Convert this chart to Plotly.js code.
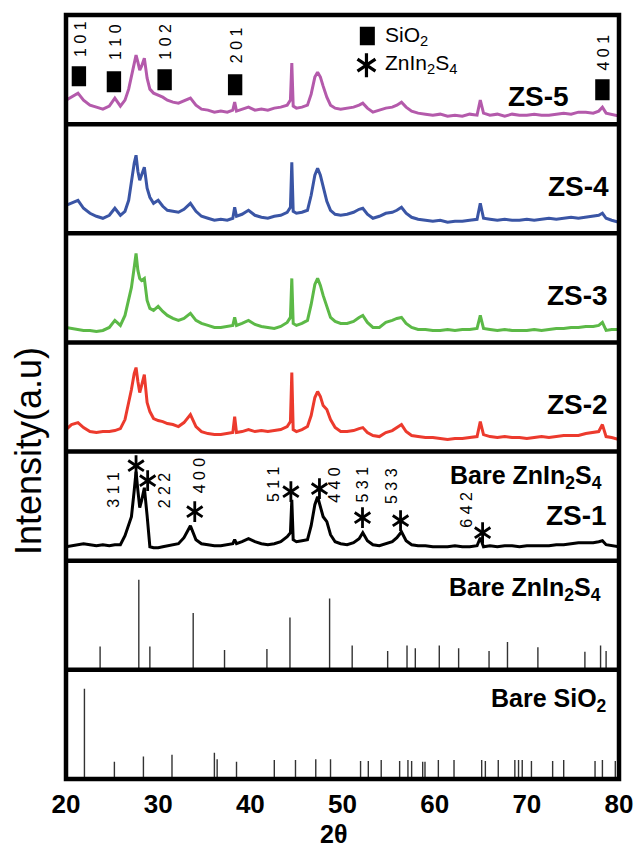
<!DOCTYPE html>
<html><head><meta charset="utf-8">
<script src="https://cdn.plot.ly/plotly-3.0.1.min.js"></script>
<style>html,body{margin:0;padding:0;background:#fff}#chart{width:636px;height:849px}</style>
</head><body><div id="chart"></div>
<script>
// ---------- DATA ----------
const twoTheta = [20.0,20.6,21.3,21.9,22.6,23.3,24.0,24.7,25.3,25.9,26.4,26.8,27.1,27.4,27.6,27.8,28.0,28.2,28.5,28.8,
29.1,29.5,30.0,30.5,31.0,31.6,32.2,32.8,33.5,34.1,34.7,35.4,36.1,36.8,37.5,38.1,38.3,38.5,39.1,39.8,
40.5,41.2,41.9,42.6,43.3,44.0,44.35,44.5,44.65,45.0,45.6,46.2,46.6,47.0,47.3,47.6,47.9,48.3,48.7,49.2,
49.8,50.5,51.2,51.8,52.2,52.7,53.3,54.0,54.7,55.4,55.9,56.4,56.9,57.5,58.2,59.0,59.8,60.6,61.4,62.2,
63.0,63.8,64.6,64.95,65.3,66.0,66.8,67.6,68.4,69.2,70.0,70.8,71.6,72.4,73.2,74.0,74.8,75.6,76.4,77.2,
77.8,78.2,78.6,79.2,80.0];

const zs5 = [24,27,31,24,19,17,15,18,26,18,24,35,47,60,69,62,54,58,66,46,
35,31,29,27,24,22,21,23,26,19,15,14,12,13,12,14,22,13,15,17,
14,15,14,16,17,19,24,61,18,16,17,19,30,47,52,47,38,27,19,16,
15,16,17,19,21,16,12,14,16,17,19,22,17,13,11,10,9,10,8,9,
8,10,9,24,11,9,10,8,10,9,9,10,9,9,10,11,10,12,12,11,
13,17,11,10,8];

const zs4 = [28,30,33,25,20,17,15,18,25,18,22,33,52,70,78,62,53,58,66,45,
36,30,33,27,23,22,21,24,30,22,17,15,13,14,13,15,26,17,19,23,
18,16,15,17,18,21,26,71,22,20,21,23,38,58,65,58,46,32,23,19,
18,19,21,24,25,19,15,17,20,21,23,26,20,16,14,13,12,13,11,12,
12,13,14,30,15,14,13,14,13,13,14,13,14,15,14,15,16,15,16,17,
18,20,15,13,11];

const zs3 = [15,14,13,12,12,11,12,15,22,17,27,42,55,75,89,72,64,62,64,42,
34,32,36,31,27,24,22,24,29,22,19,17,15,15,16,17,25,17,19,22,
18,16,15,14,16,20,25,64,19,17,19,22,38,58,64,57,47,35,25,21,
19,19,21,25,27,20,15,15,20,22,24,25,19,15,13,13,12,12,13,12,
13,13,14,27,14,13,12,13,12,12,12,13,12,13,14,14,15,15,16,16,
17,20,12,13,13];

const zs2 = [22,27,29,24,20,19,20,20,21,23,32,48,62,78,84,70,59,66,77,49,
40,33,31,30,28,27,25,29,37,25,20,18,17,17,18,19,35,19,20,22,
20,21,20,21,22,25,30,79,22,20,22,25,36,54,60,55,46,42,32,24,
20,20,21,23,24,19,16,15,19,21,24,27,20,16,15,14,14,13,12,13,
13,14,15,30,17,15,14,15,14,14,13,14,15,14,15,16,16,16,18,19,
20,27,15,14,12];

const zs1 = [14,15,16,17,16,15,16,15,16,16,25,35,44,70,89,70,53,60,73,45,
14,13,13,14,15,16,17,23,35,21,17,16,15,15,16,17,21,17,19,22,
19,17,16,17,19,24,28,61,21,19,20,21,35,56,64,55,44,39,26,19,
17,16,18,22,28,20,16,15,17,19,23,29,20,16,15,15,14,14,14,15,
14,14,15,23,14,15,14,15,15,14,15,15,15,15,16,16,17,18,18,18,
19,20,16,15,14];

const znRefPos = [23.7,27.9,29.1,33.8,37.2,41.8,44.3,48.6,51.05,54.9,57.0,57.9,60.5,62.6,65.9,67.9,71.2,76.3,78.0,78.6];
const znRefInt = [26,100,26,63,22,23,58,79,27,21,27,24,27,24,21,31,25,20,27,21];

const sioRefPos = [22.0,25.25,28.4,31.5,36.1,36.4,38.5,42.6,44.9,47.1,48.7,51.96,52.8,54.2,56.2,57.1,57.5,58.7,58.95,60.4,
62.1,65.1,65.5,66.9,68.7,69.1,69.5,70.5,72.8,74.0,77.4,78.2,79.6];
const sioRefInt = [100,19,25,27,29,22,19,21,21,22,22,20,20,21,20,21,20,19,19,21,
21,21,20,21,21,21,21,20,20,21,20,21,20];

const sio2MarkPos = [21.4,25.2,30.7,38.35,78.2];
const sio2MarkHkl = ['101','110','102','201','401'];
const znStarPos = [27.6,28.86,33.97,44.4,47.5,52.17,56.3,65.2];
const znStarHkl = ['311','222','400','511','440','531','533','642'];
const tickVals = [20,30,40,50,60,70,80];
const panelNames = ['ZS-5','ZS-4','ZS-3','ZS-2','ZS-1'];
const patternColors = ['#b45aab','#3a55a5','#5cb947','#ec3a2d','#000000'];

// ---------- LAYOUT HELPERS ----------
const L=66, R=619, T=15, B=779;
const W=R-L, H=B-T;
const px = x => (x-L)/W;
const py = y => (B-y)/H;
const N=7, ph=H/N;
const FONT='Liberation Sans, Arial, sans-serif';

const patterns=[zs5,zs4,zs3,zs2,zs1];
const traces=[];
patterns.forEach((arr,i)=>{
  traces.push({x:twoTheta,y:arr,type:'scatter',mode:'lines',xaxis:'x',yaxis: i===0?'y':'y'+(i+1),
    line:{color:patternColors[i],width:3},hoverinfo:'skip',showlegend:false});
});
function sticks(pos,ints,ax){
  const x=[],y=[];
  pos.forEach((p,k)=>{x.push(p,p,null);y.push(0,ints[k],null);});
  return {x,y,type:'scatter',mode:'lines',xaxis:'x',yaxis:ax,line:{color:'#333',width:1.4},hoverinfo:'skip',showlegend:false};
}
traces.push(sticks(znRefPos,znRefInt,'y6'));
traces.push(sticks(sioRefPos,sioRefInt,'y7'));

// stars on ZS-1 panel
const starY=[95,80,49,69,72,43,40,28];
['y-up-open','y-down-open'].forEach(s=>{
  traces.push({x:znStarPos,y:starY,type:'scatter',mode:'markers',xaxis:'x',yaxis:'y5',
    marker:{symbol:s,size:13,color:'#000',line:{color:'#000',width:2.8}},hoverinfo:'skip',showlegend:false});
  traces.push({x:[52.6],y:[59],type:'scatter',mode:'markers',xaxis:'x',yaxis:'y',
    marker:{symbol:s,size:15,color:'#000',line:{color:'#000',width:3.2}},hoverinfo:'skip',showlegend:false});
});

const layout={
  width:636,height:849,margin:{l:L,r:636-R,t:T,b:849-B},
  paper_bgcolor:'#fff',plot_bgcolor:'#fff',showlegend:false,
  xaxis:{domain:[0,1],range:[20,80],anchor:'y7',tickvals:tickVals,ticktext:tickVals.map(String),
    ticks:'outside',ticklen:2,tickcolor:'rgba(0,0,0,0)',showline:false,showgrid:false,zeroline:false,
    tickfont:{family:FONT,size:26,color:'#000',weight:'bold'}},
  shapes:[],annotations:[]
};
for(let i=0;i<N;i++){
  const key = i===0?'yaxis':'yaxis'+(i+1);
  layout[key]={domain:[1-(i+1)/N,1-i/N],range:i<5?[0,ph]:[0,121],anchor:'x',
    showticklabels:false,showgrid:false,zeroline:false,showline:false,ticks:''};
}
// frame and separators
layout.shapes.push({type:'rect',xref:'paper',yref:'paper',x0:0,x1:1,y0:0,y1:1,line:{color:'#000',width:4.5}});
for(let i=1;i<N;i++) layout.shapes.push({type:'line',xref:'paper',yref:'paper',x0:0,x1:1,y0:i/N,y1:i/N,line:{color:'#000',width:4.5}});
// SiO2 marks (black rectangles) panel 1
const markY=[[38,58],[32,53],[34,55],[29,50],[24,45]];
const markLab=[85,82,82,79,72];
sio2MarkPos.forEach((p,k)=>{
  layout.shapes.push({type:'rect',xref:'x',yref:'y',x0:p-0.78,x1:p+0.78,y0:markY[k][0],y1:markY[k][1],fillcolor:'#000',line:{width:0}});
  layout.annotations.push({xref:'x',yref:'y',x:p+0.1,y:markLab[k],text:sio2MarkHkl[k].split('').join(' '),textangle:-90,showarrow:false,
    font:{family:FONT,size:16,color:'#000'}});
});
// legend rect
layout.shapes.push({type:'rect',xref:'x',yref:'y',x0:51.88,x1:53.51,y0:79,y1:97.4,fillcolor:'#000',line:{width:0}});
layout.annotations.push({xref:'paper',yref:'paper',x:px(383),y:py(36),xanchor:'left',yanchor:'middle',text:'SiO<sub>2</sub>',showarrow:false,font:{family:FONT,size:21,color:'#000'}});
layout.annotations.push({xref:'paper',yref:'paper',x:px(383),y:py(64),xanchor:'left',yanchor:'middle',text:'ZnIn<sub>2</sub>S<sub>4</sub>',showarrow:false,font:{family:FONT,size:21,color:'#000'}});
// hkl labels ZS-1
const znLabX=[25.2,30.7,34.5,42.5,49.2,52.2,55.3,63.5];
const znLabY=[71,70,85,77,76,76,75,51];
znStarHkl.forEach((h,k)=>{
  layout.annotations.push({xref:'x',yref:'y5',x:znLabX[k],y:znLabY[k],text:h.split('').join(' '),textangle:-90,showarrow:false,
    font:{family:FONT,size:16,color:'#000'}});
});
// panel names
const nameY=[96,186,295,404,515];
const nameX=[571,611,610,610,609];
panelNames.forEach((n,i)=>{
  layout.annotations.push({xref:'paper',yref:'paper',x:px(nameX[i]),y:py(nameY[i]),xanchor:'right',yanchor:'middle',
    text:'<b>'+n+'</b>',showarrow:false,font:{family:FONT,size:28,color:'#000'}});
});
layout.annotations.push({xref:'paper',yref:'paper',x:px(604),y:py(477),xanchor:'right',yanchor:'middle',
  text:'<b>Bare ZnIn<sub>2</sub>S<sub>4</sub></b>',showarrow:false,font:{family:FONT,size:25,color:'#000'}});
layout.annotations.push({xref:'paper',yref:'paper',x:px(603),y:py(589),xanchor:'right',yanchor:'middle',
  text:'<b>Bare ZnIn<sub>2</sub>S<sub>4</sub></b>',showarrow:false,font:{family:FONT,size:25,color:'#000'}});
layout.annotations.push({xref:'paper',yref:'paper',x:px(609),y:py(700),xanchor:'right',yanchor:'middle',
  text:'<b>Bare SiO<sub>2</sub></b>',showarrow:false,font:{family:FONT,size:25,color:'#000'}});
// axis titles
layout.annotations.push({xref:'paper',yref:'paper',x:px(333),y:py(849),xanchor:'center',yanchor:'bottom',borderpad:0,
  text:'<b>2θ</b>',showarrow:false,font:{family:FONT,size:25,color:'#000'}});
layout.annotations.push({xref:'paper',yref:'paper',x:px(28),y:py(451),xanchor:'center',yanchor:'middle',textangle:-90,
  text:'Intensity(a.u)',showarrow:false,font:{family:FONT,size:36,color:'#000'}});

Plotly.newPlot('chart',traces,layout,{staticPlot:true,displayModeBar:false});
</script></body></html>
